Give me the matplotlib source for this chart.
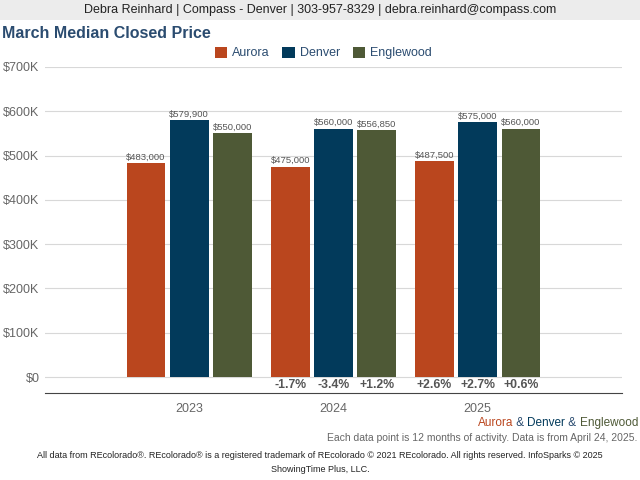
import numpy as np
import matplotlib
matplotlib.use("Agg")
from matplotlib import pyplot as plt
from matplotlib.patches import Rectangle

years = ["2023", "2024", "2025"]
areas = ["Aurora", "Denver", "Englewood"]
aurora = [483000, 475000, 487500]
denver = [579900, 560000, 575000]
englewood = [550000, 556850, 560000]
aurora_chg = ["", "-1.7%", "+2.6%"]
denver_chg = ["", "-3.4%", "+2.7%"]
englewood_chg = ["", "+1.2%", "+0.6%"]
yticks = [0, 100000, 200000, 300000, 400000, 500000, 600000, 700000]
ytick_labels = ["$0", "$100K", "$200K", "$300K", "$400K", "$500K", "$600K", "$700K"]

colors = ["#BA461E", "#023A5B", "#4E5936"]
plt.rcParams['font.family'] = ['Liberation Sans', 'DejaVu Sans']

fig = plt.figure(figsize=(6.4, 4.8), dpi=100)
fig.patches.append(Rectangle((0, 1 - 20/480), 1, 20/480, transform=fig.transFigure,
                             facecolor="#ececec", edgecolor="none", zorder=0))
fig.text(0.5, 1 - 10/480, "Debra Reinhard | Compass - Denver | 303-957-8329 | debra.reinhard@compass.com",
         ha="center", va="center", fontsize=9, color="#222222")
fig.text(2/640, 1 - 34/480, "March Median Closed Price", ha="left", va="center",
         fontsize=11.5, fontweight="bold", color="#2B4C70")

ax = fig.add_axes([45/640, 87/480, 577/640, 326/480])
x = np.arange(len(years))
w = 0.27
step = 0.3
series = [aurora, denver, englewood]
changes = [aurora_chg, denver_chg, englewood_chg]
for i, (vals, chg) in enumerate(zip(series, changes)):
    pos = x + (i - 1) * step
    ax.bar(pos, vals, width=w, color=colors[i], label=areas[i], zorder=3)
    for p, v, c in zip(pos, vals, chg):
        ax.text(p, v + 4000, "${:,.0f}".format(v), ha="center", va="bottom",
                fontsize=6.8, color="#555555", zorder=4)
        ax.text(p, -18000, c, ha="center", va="center", fontsize=8.8,
                fontweight="bold", color="#555555")

ax.set_xlim(-1, 3)
ax.set_ylim(-36000, 700000)
ax.set_yticks(yticks)
ax.set_yticklabels(ytick_labels)
ax.set_xticks(x)
ax.set_xticklabels(years)
ax.grid(axis="y", color="#d8d8d8", linewidth=0.8, zorder=0)
for s in ["top", "right", "left"]:
    ax.spines[s].set_visible(False)
ax.spines["bottom"].set_color("#444444")
ax.tick_params(axis="y", length=0, labelsize=9, labelcolor="#666666", pad=4)
ax.tick_params(axis="x", length=0, labelsize=9, labelcolor="#666666", pad=7)

leg = fig.legend(loc="center", bbox_to_anchor=(0.505, 1 - 53/480), ncol=3, frameon=False,
                 fontsize=9, handlelength=1.0, handleheight=1.0, columnspacing=1.0,
                 handletextpad=0.4)
for t in leg.get_texts():
    t.set_color("#2B4C70")

# colored area note
t1 = fig.text(638/640, 1 - 423/480, "Englewood", ha="right", va="center", fontsize=8.5, color=colors[2])
fig.canvas.draw()
r = fig.canvas.get_renderer()
bb = t1.get_window_extent(r)
xr = bb.x0 / fig.bbox.width
parts = [(" & ", "#2B4C70"), ("Denver", colors[1]), (" & ", "#2B4C70"), ("Aurora", colors[0])]
for txt, col in parts:
    tt = fig.text(xr, 1 - 423/480, txt, ha="right", va="center", fontsize=8.5, color=col)
    bb = tt.get_window_extent(r)
    xr = bb.x0 / fig.bbox.width

fig.text(637/640, 1 - 438/480, "Each data point is 12 months of activity. Data is from April 24, 2025.",
         ha="right", va="center", fontsize=7.5, color="#666666")
fig.text(0.5, 1 - 456/480,
         "All data from REcolorado®. REcolorado® is a registered trademark of REcolorado © 2021 REcolorado. All rights reserved. InfoSparks © 2025",
         ha="center", va="center", fontsize=6.5, color="#222222")
fig.text(0.5, 1 - 470/480, "ShowingTime Plus, LLC.", ha="center", va="center",
         fontsize=6.5, color="#222222")

fig.savefig("out.png", dpi=100)
